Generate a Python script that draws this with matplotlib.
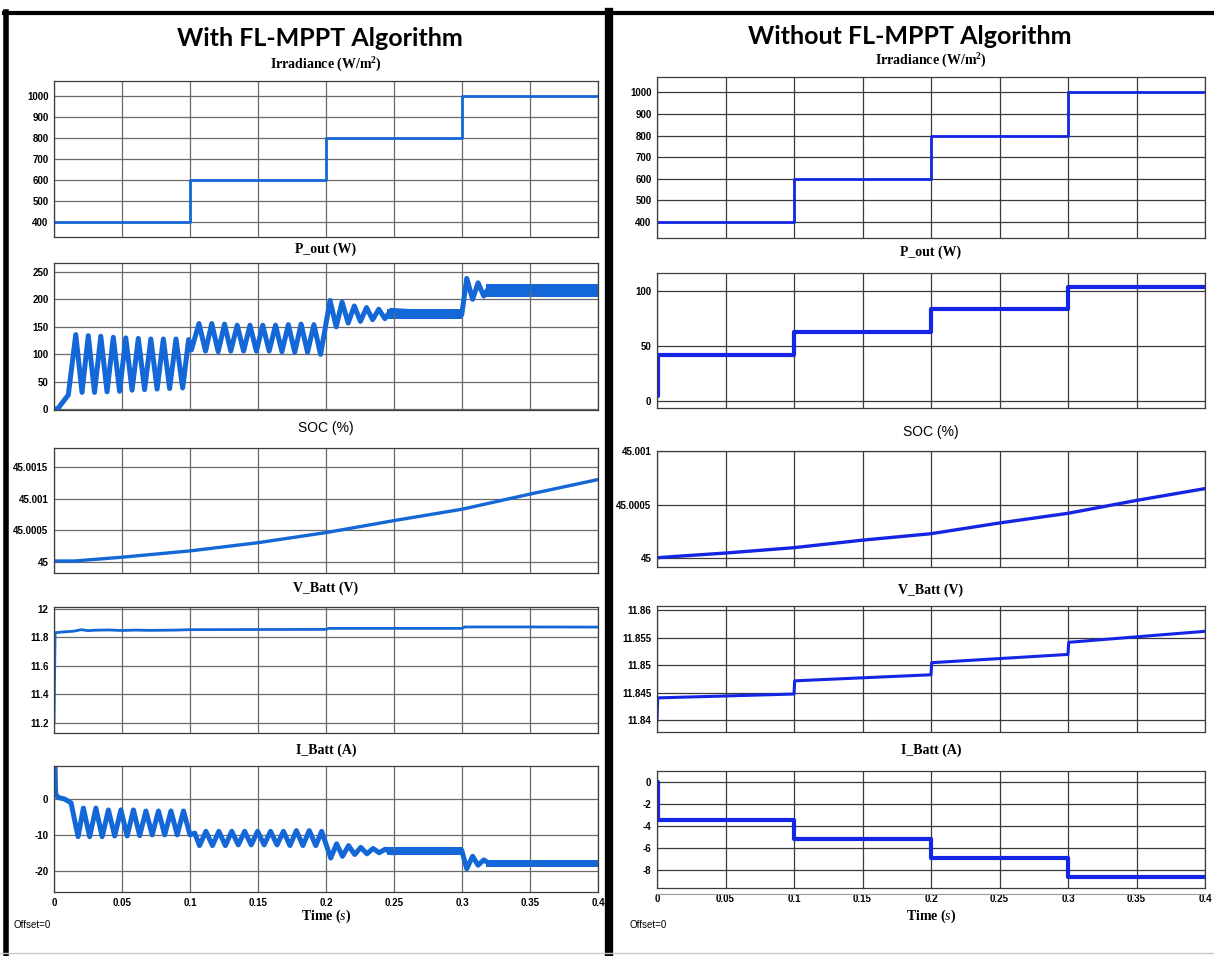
import matplotlib
matplotlib.use('Agg')
import matplotlib.pyplot as plt
from matplotlib.lines import Line2D

W, H = 1214, 956

# ---- data ----
t_steps = [0, 0.1, 0.2, 0.3, 0.4]
irr_levels = [400, 600, 800, 1000, 1000]

# with FL-MPPT: turning points of the oscillating traces
pout_fl_t = [0, 0.003, 0.0085, 0.0105, 0.0160, 0.0206, 0.0252, 0.0298, 0.0344, 0.0390,
             0.0436, 0.0482, 0.0528, 0.0574, 0.0620, 0.0666, 0.0712, 0.0758, 0.0804,
             0.0850, 0.0897, 0.0946, 0.0990, 0.1010, 0.1066, 0.1114, 0.1160, 0.1207,
             0.1254, 0.1300, 0.1347, 0.1394, 0.1441, 0.1488, 0.1535, 0.1582, 0.1629,
             0.1676, 0.1723, 0.1770, 0.1817, 0.1864, 0.1911, 0.1960, 0.2030, 0.2075,
             0.2118, 0.2163, 0.2208, 0.2253, 0.2298, 0.2343, 0.2388, 0.2433, 0.2478,
             0.2998, 0.3035, 0.3078, 0.3118, 0.3160, 0.3200, 0.4]
pout_fl_v = [0, 2, 20, 26, 136, 31, 134, 31, 133, 32,
             131, 33, 130, 35, 129, 36, 128, 37, 128,
             38, 128, 39, 127, 108, 156, 106, 156, 105,
             155, 106, 153, 106, 153, 106, 153, 106, 153,
             105, 154, 104, 155, 104, 154, 100, 198, 150,
             195, 157, 188, 160, 185, 163, 182, 165, 180,
             172, 238, 200, 230, 206, 222, 216]
pout_fl_bands = [(0.245, 0.300, 164, 183), (0.318, 0.400, 205, 227)]

ibatt_fl_t = [0, 0.0008, 0.0012, 0.003, 0.008, 0.0125, 0.0177, 0.0216, 0.0262, 0.0308,
              0.0354, 0.0400, 0.0446, 0.0492, 0.0538, 0.0584, 0.0630, 0.0676, 0.0722,
              0.0768, 0.0814, 0.0860, 0.0906, 0.0952, 0.1000, 0.1035, 0.1070, 0.1117,
              0.1165, 0.1212, 0.1260, 0.1307, 0.1355, 0.1402, 0.1450, 0.1497, 0.1545,
              0.1592, 0.1640, 0.1687, 0.1735, 0.1782, 0.1830, 0.1877, 0.1925, 0.1968,
              0.2035, 0.2078, 0.2121, 0.2166, 0.2211, 0.2256, 0.2301, 0.2346, 0.2391,
              0.2436, 0.2481, 0.2998, 0.3035, 0.3078, 0.3118, 0.3160, 0.3200, 0.4]
ibatt_fl_v = [9, 9, 1.5, 0.5, 0, -1, -10.5, -2.5, -10.5, -2.5,
              -10.5, -3, -10.3, -3, -10.3, -3, -10.2, -3.3, -10,
              -3.3, -10, -3.3, -10, -3.3, -10, -9.5, -13, -9,
              -13, -9, -13, -9, -12.8, -9, -12.8, -9, -12.8,
              -9, -12.8, -9, -13, -8.8, -13, -8.8, -13, -9,
              -16.5, -12.5, -16, -13, -15.5, -13.5, -15.3, -13.8, -15,
              -14, -15, -14.3, -19.5, -16, -18.5, -17, -18, -18]
ibatt_fl_bands = [(0.245, 0.300, -15.5, -13.3), (0.318, 0.400, -19, -17)]

soc_t = [0, 0.015, 0.05, 0.1, 0.15, 0.2, 0.25, 0.3, 0.35, 0.4]
soc_fl = [45.00001, 45.00001, 45.00007, 45.00017, 45.0003, 45.00046, 45.00065, 45.00083, 45.00107, 45.0013]
soc_nofl = [45.000006, 45.00002, 45.00005, 45.0001, 45.00017, 45.00023, 45.00033, 45.00042, 45.00054, 45.00065]

vbatt_fl_t = [0, 0.0008, 0.005, 0.01, 0.015, 0.02, 0.025, 0.03, 0.04, 0.05, 0.06, 0.07,
              0.08, 0.09, 0.1, 0.15, 0.2, 0.202, 0.25, 0.3, 0.302, 0.35, 0.4]
vbatt_fl_v = [11.2, 11.83, 11.835, 11.838, 11.842, 11.852, 11.845, 11.848, 11.85, 11.846,
              11.849, 11.847, 11.848, 11.849, 11.852, 11.853, 11.854, 11.861, 11.861,
              11.861, 11.871, 11.871, 11.870]

# without FL-MPPT: step traces
pout_nofl_t = [0, 0.0005, 0.1, 0.2, 0.3, 0.4]
pout_nofl_v = [5, 42, 62.7, 84, 104, 104]
ibatt_nofl_v = [0, -3.5, -5.2, -6.9, -8.6, -8.6]
vbatt_nofl_t = [0, 0.0005, 0.1, 0.1005, 0.2, 0.2005, 0.3, 0.3005, 0.4]
vbatt_nofl_v = [11.84, 11.8441, 11.8448, 11.8472, 11.8483, 11.8505, 11.852, 11.8542, 11.8562]

time_ticks = [0, 0.05, 0.1, 0.15, 0.2, 0.25, 0.3, 0.35, 0.4]
time_labels = ['0', '0.05', '0.1', '0.15', '0.2', '0.25', '0.3', '0.35', '0.4']

# ---- styling ----
C_FL = '#1467d6'
C_NO = '#1426e4'
TICKFONT = dict(family=['Liberation Sans Narrow', 'Liberation Sans', 'DejaVu Sans'],
                weight='bold', size=7)
SERIF = dict(family=['Liberation Serif', 'DejaVu Serif'], weight='bold', size=10)
SANS = dict(family=['Liberation Sans', 'DejaVu Sans'], size=10)

plt.rcParams['mathtext.fontset'] = 'custom'
plt.rcParams['mathtext.it'] = 'Liberation Serif:italic'
plt.rcParams['mathtext.rm'] = 'Liberation Serif'

fig = plt.figure(figsize=(W / 100, H / 100), dpi=100)


def px_axes(x0, y0, x1, y1):
    return fig.add_axes([x0 / W, 1 - y1 / H, (x1 - x0) / W, (y1 - y0) / H])


def style(ax, ylim, yticks, ylabels, grid_c, bottom=False):
    ax.set_xlim(0, 0.4)
    ax.set_ylim(*ylim)
    ax.set_xticks(time_ticks)
    ax.set_yticks(yticks)
    ax.set_yticklabels(ylabels, fontdict=TICKFONT)
    if bottom:
        ax.set_xticklabels(time_labels, fontdict=TICKFONT)
    else:
        ax.set_xticklabels([])
    ax.tick_params(length=0, pad=4)
    ax.grid(True, color=grid_c, lw=0.9)
    for s in ax.spines.values():
        s.set_color('#3c3c3c')
        s.set_linewidth(0.9)


def ptitle(ax, text, y_px, sans=False):
    x0, _, w, _ = ax.get_position().bounds
    fig.text(x0 + w / 2, 1 - y_px / H, text, ha='center', va='center',
             fontdict=SANS if sans else SERIF)


GL = '#6a6a6a'
GR = '#3a3a3a'

# ---------------- left: with FL-MPPT ----------------
lx0, lx1 = 54, 598
a1 = px_axes(lx0, 81, lx1, 237)
a1.plot(t_steps, irr_levels, drawstyle='steps-post', color=C_FL, lw=2)
style(a1, (327, 1071), range(400, 1001, 100), [str(v) for v in range(400, 1001, 100)], GL)

a2 = px_axes(lx0, 263, lx1, 410)
a2.plot(pout_fl_t, pout_fl_v, color=C_FL, lw=3.6, solid_joinstyle='round')
for t0, t1, lo, hi in pout_fl_bands:
    a2.fill_between([t0, t1], lo, hi, color=C_FL, lw=0)
style(a2, (-1, 266), range(0, 251, 50), [str(v) for v in range(0, 251, 50)], GL)

a3 = px_axes(lx0, 448, lx1, 573)
a3.plot(soc_t, soc_fl, color=C_FL, lw=2.4)
style(a3, (44.99982, 45.0018), [45, 45.0005, 45.001, 45.0015],
      ['45', '45.0005', '45.001', '45.0015'], GL)

a4 = px_axes(lx0, 607, lx1, 733)
a4.plot(vbatt_fl_t, vbatt_fl_v, color=C_FL, lw=2)
style(a4, (11.127, 12.011), [11.2, 11.4, 11.6, 11.8, 12],
      ['11.2', '11.4', '11.6', '11.8', '12'], GL)

a5 = px_axes(lx0, 766, lx1, 892)
a5.plot(ibatt_fl_t, ibatt_fl_v, color=C_FL, lw=3.6, solid_joinstyle='round')
for t0, t1, lo, hi in ibatt_fl_bands:
    a5.fill_between([t0, t1], lo, hi, color=C_FL, lw=0)
style(a5, (-26, 9.3), [-20, -10, 0], ['-20', '-10', '0'], GL, bottom=True)

# ---------------- right: without FL-MPPT ----------------
rx0, rx1 = 657, 1205
b1 = px_axes(rx0, 77, rx1, 238)
b1.plot(t_steps, irr_levels, drawstyle='steps-post', color=C_NO, lw=2)
style(b1, (326, 1071), range(400, 1001, 100), [str(v) for v in range(400, 1001, 100)], GR)

b2 = px_axes(rx0, 273, rx1, 408)
b2.plot(pout_nofl_t, pout_nofl_v, drawstyle='steps-post', color=C_NO, lw=3)
style(b2, (-6, 116.7), [0, 50, 100], ['0', '50', '100'], GR)

b3 = px_axes(rx0, 451, rx1, 567)
b3.plot(soc_t, soc_nofl, color=C_NO, lw=2.4)
style(b3, (44.99992, 45.001), [45, 45.0005, 45.001], ['45', '45.0005', '45.001'], GR)

b4 = px_axes(rx0, 606, rx1, 732)
b4.plot(vbatt_nofl_t, vbatt_nofl_v, color=C_NO, lw=2.2)
style(b4, (11.8379, 11.8608), [11.84, 11.845, 11.85, 11.855, 11.86],
      ['11.84', '11.845', '11.85', '11.855', '11.86'], GR)

b5 = px_axes(rx0, 771, rx1, 888)
b5.plot(pout_nofl_t, ibatt_nofl_v, drawstyle='steps-post', color=C_NO, lw=3)
style(b5, (-9.6, 0.97), [-8, -6, -4, -2, 0], ['-8', '-6', '-4', '-2', '0'], GR, bottom=True)

# ---------------- titles ----------------
TITLE = dict(family=['Lato', 'Open Sans', 'DejaVu Sans'], weight='bold', size=18)
fig.text(320 / W, 1 - 39 / H, 'With FL-MPPT Algorithm', ha='center', va='center', fontdict=TITLE)
fig.text(910 / W, 1 - 37 / H, 'Without FL-MPPT Algorithm', ha='center', va='center', fontdict=TITLE)

for ax, ys in ((a1, 65), (b1, 61)):
    ptitle(ax, 'Irradiance (W/m$^\\mathregular{2}$)', ys)
for ax, ys in ((a2, 249), (b2, 252)):
    ptitle(ax, 'P_out (W)', ys)
for ax, ys in ((a3, 428), (b3, 432)):
    ptitle(ax, 'SOC (%)', ys, sans=True)
for ax, ys in ((a4, 588), (b4, 590)):
    ptitle(ax, 'V_Batt (V)', ys)
for ax, ys in ((a5, 750), (b5, 750)):
    ptitle(ax, 'I_Batt (A)', ys)

for ax in (a5, b5):
    ptitle(ax, 'Time ($\\mathit{s}$)', 916)
fig.text(14 / W, 1 - 925 / H, 'Offset=0', fontdict=dict(TICKFONT, weight='normal'), va='center')
fig.text(630 / W, 1 - 925 / H, 'Offset=0', fontdict=dict(TICKFONT, weight='normal'), va='center')

# ---------------- panel frames ----------------
fig.add_artist(Line2D([6 / W, 6 / W], [0, 1 - 12 / H], color='black', lw=4))
fig.add_artist(Line2D([4 / W, 1], [1 - 13 / H, 1 - 13 / H], color='black', lw=3))
fig.add_artist(Line2D([609 / W, 609 / W], [0, 1 - 12 / H], color='black', lw=6))
fig.add_artist(Line2D([0, 1], [1 - 953 / H, 1 - 953 / H], color='#c8c8c8', lw=1))
fig.add_artist(Line2D([rx0 / W, rx1 / W], [1 - 894 / H, 1 - 894 / H], color='#9a9a9a', lw=0.8))

fig.savefig('out.png', dpi=100)
